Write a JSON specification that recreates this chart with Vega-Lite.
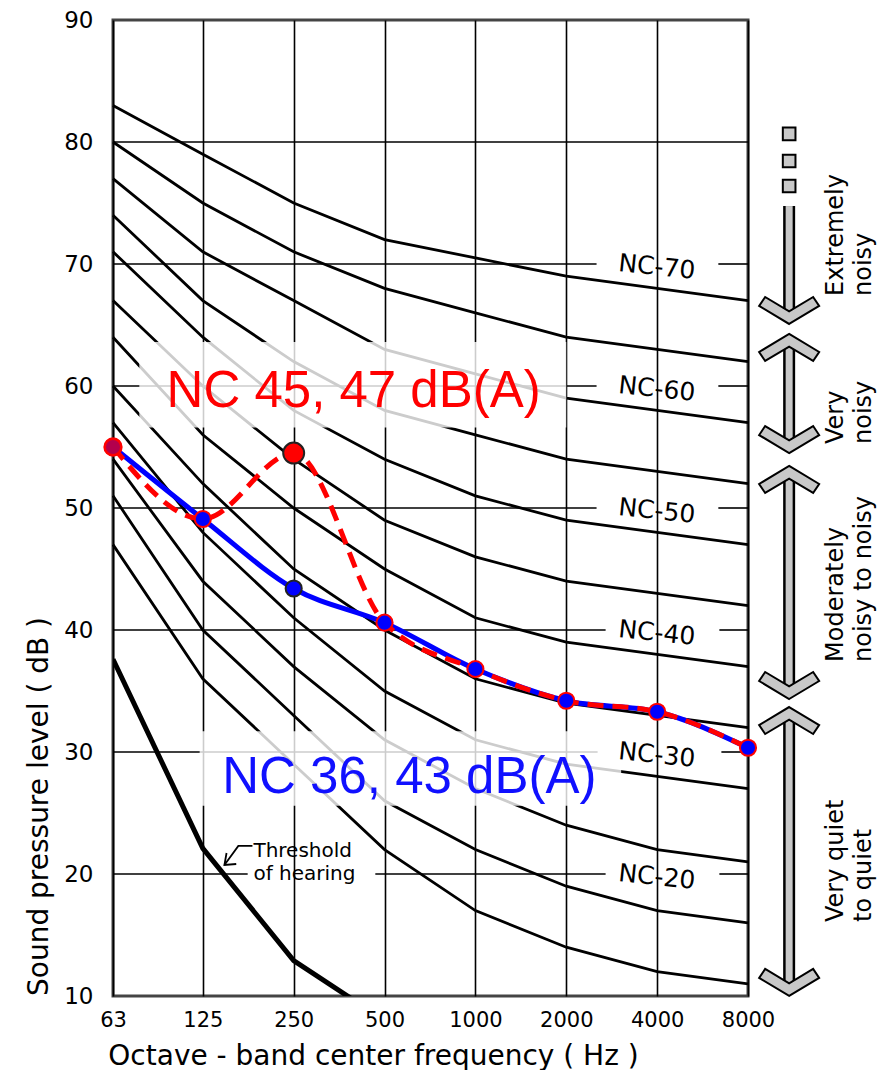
{
  "$schema": "https://vega.github.io/schema/vega-lite/v6.json",
  "width": 635,
  "height": 976,
  "padding": {"left": 25, "top": 9, "right": 0, "bottom": 0},
  "background": "white",
  "config": {"view": {"stroke": "#444", "strokeWidth": 3}, "font": "DejaVu Sans"},
  "datasets": {
    "nc": [
      {"nc":"NC-15","freq":63,"level":47},{"nc":"NC-15","freq":125,"level":36},{"nc":"NC-15","freq":250,"level":29},{"nc":"NC-15","freq":500,"level":22},{"nc":"NC-15","freq":1000,"level":17},{"nc":"NC-15","freq":2000,"level":14},{"nc":"NC-15","freq":4000,"level":12},{"nc":"NC-15","freq":8000,"level":11},
      {"nc":"NC-20","freq":63,"level":51},{"nc":"NC-20","freq":125,"level":40},{"nc":"NC-20","freq":250,"level":33},{"nc":"NC-20","freq":500,"level":26},{"nc":"NC-20","freq":1000,"level":22},{"nc":"NC-20","freq":2000,"level":19},{"nc":"NC-20","freq":4000,"level":17},{"nc":"NC-20","freq":8000,"level":16},
      {"nc":"NC-25","freq":63,"level":54},{"nc":"NC-25","freq":125,"level":44},{"nc":"NC-25","freq":250,"level":37},{"nc":"NC-25","freq":500,"level":31},{"nc":"NC-25","freq":1000,"level":27},{"nc":"NC-25","freq":2000,"level":24},{"nc":"NC-25","freq":4000,"level":22},{"nc":"NC-25","freq":8000,"level":21},
      {"nc":"NC-30","freq":63,"level":57},{"nc":"NC-30","freq":125,"level":48},{"nc":"NC-30","freq":250,"level":41},{"nc":"NC-30","freq":500,"level":35},{"nc":"NC-30","freq":1000,"level":31},{"nc":"NC-30","freq":2000,"level":29},{"nc":"NC-30","freq":4000,"level":28},{"nc":"NC-30","freq":8000,"level":27},
      {"nc":"NC-35","freq":63,"level":60},{"nc":"NC-35","freq":125,"level":52},{"nc":"NC-35","freq":250,"level":45},{"nc":"NC-35","freq":500,"level":40},{"nc":"NC-35","freq":1000,"level":36},{"nc":"NC-35","freq":2000,"level":34},{"nc":"NC-35","freq":4000,"level":33},{"nc":"NC-35","freq":8000,"level":32},
      {"nc":"NC-40","freq":63,"level":64},{"nc":"NC-40","freq":125,"level":56},{"nc":"NC-40","freq":250,"level":50},{"nc":"NC-40","freq":500,"level":45},{"nc":"NC-40","freq":1000,"level":41},{"nc":"NC-40","freq":2000,"level":39},{"nc":"NC-40","freq":4000,"level":38},{"nc":"NC-40","freq":8000,"level":37},
      {"nc":"NC-45","freq":63,"level":67},{"nc":"NC-45","freq":125,"level":60},{"nc":"NC-45","freq":250,"level":54},{"nc":"NC-45","freq":500,"level":49},{"nc":"NC-45","freq":1000,"level":46},{"nc":"NC-45","freq":2000,"level":44},{"nc":"NC-45","freq":4000,"level":43},{"nc":"NC-45","freq":8000,"level":42},
      {"nc":"NC-50","freq":63,"level":71},{"nc":"NC-50","freq":125,"level":64},{"nc":"NC-50","freq":250,"level":58},{"nc":"NC-50","freq":500,"level":54},{"nc":"NC-50","freq":1000,"level":51},{"nc":"NC-50","freq":2000,"level":49},{"nc":"NC-50","freq":4000,"level":48},{"nc":"NC-50","freq":8000,"level":47},
      {"nc":"NC-55","freq":63,"level":74},{"nc":"NC-55","freq":125,"level":67},{"nc":"NC-55","freq":250,"level":62},{"nc":"NC-55","freq":500,"level":58},{"nc":"NC-55","freq":1000,"level":56},{"nc":"NC-55","freq":2000,"level":54},{"nc":"NC-55","freq":4000,"level":53},{"nc":"NC-55","freq":8000,"level":52},
      {"nc":"NC-60","freq":63,"level":77},{"nc":"NC-60","freq":125,"level":71},{"nc":"NC-60","freq":250,"level":67},{"nc":"NC-60","freq":500,"level":63},{"nc":"NC-60","freq":1000,"level":61},{"nc":"NC-60","freq":2000,"level":59},{"nc":"NC-60","freq":4000,"level":58},{"nc":"NC-60","freq":8000,"level":57},
      {"nc":"NC-65","freq":63,"level":80},{"nc":"NC-65","freq":125,"level":75},{"nc":"NC-65","freq":250,"level":71},{"nc":"NC-65","freq":500,"level":68},{"nc":"NC-65","freq":1000,"level":66},{"nc":"NC-65","freq":2000,"level":64},{"nc":"NC-65","freq":4000,"level":63},{"nc":"NC-65","freq":8000,"level":62},
      {"nc":"NC-70","freq":63,"level":83},{"nc":"NC-70","freq":125,"level":79},{"nc":"NC-70","freq":250,"level":75},{"nc":"NC-70","freq":500,"level":72},{"nc":"NC-70","freq":1000,"level":70.5},{"nc":"NC-70","freq":2000,"level":69},{"nc":"NC-70","freq":4000,"level":68},{"nc":"NC-70","freq":8000,"level":67}
    ],
    "thr": [
      {"freq":63,"level":37.6},{"freq":125,"level":22.1},{"freq":250,"level":12.9},{"freq":500,"level":8.0}
    ],
    "hgrid": [
      {"lvl":20,"f1":63,"f2":176},{"lvl":20,"f1":466,"f2":2700},{"lvl":20,"f1":6430,"f2":8000},
      {"lvl":30,"f1":63,"f2":2540},{"lvl":30,"f1":6530,"f2":8000},
      {"lvl":40,"f1":63,"f2":2700},{"lvl":40,"f1":6430,"f2":8000},
      {"lvl":50,"f1":63,"f2":2520},{"lvl":50,"f1":6380,"f2":8000},
      {"lvl":60,"f1":63,"f2":2520},{"lvl":60,"f1":6380,"f2":8000},
      {"lvl":70,"f1":63,"f2":2520},{"lvl":70,"f1":6380,"f2":8000},
      {"lvl":80,"f1":63,"f2":8000}
    ],
    "boxes": [
      {"f1":77,"f2":2000,"l1":63.6,"l2":56.6},
      {"f1":122,"f2":3040,"l1":31.7,"l2":25.6}
    ],
    "nclab": [
      {"label":"NC-70","level":70},{"label":"NC-60","level":60},{"label":"NC-50","level":50},
      {"label":"NC-40","level":40},{"label":"NC-30","level":30},{"label":"NC-20","level":20}
    ],
    "thrlab": [
      {"text":"Threshold\nof hearing","level":21.39}
    ],
    "leader": [
      {"part":"line","ord":1,"freq":182.5,"level":22.3},{"part":"line","ord":2,"freq":163.9,"level":22.3},{"part":"line","ord":3,"freq":147.4,"level":20.74},
      {"part":"head","ord":1,"freq":149.8,"level":21.72},{"part":"head","ord":2,"freq":147.4,"level":20.74},{"part":"head","ord":3,"freq":161.3,"level":20.82}
    ],
    "meas": [
      {"series":"NC 36","freq":63,"level":55},{"series":"NC 36","freq":125,"level":49.1},{"series":"NC 36","freq":250,"level":43.4},{"series":"NC 36","freq":500,"level":40.6},{"series":"NC 36","freq":1000,"level":36.8},{"series":"NC 36","freq":2000,"level":34.2},{"series":"NC 36","freq":4000,"level":33.3},{"series":"NC 36","freq":8000,"level":30.35},
      {"series":"NC 45","freq":63,"level":55},{"series":"NC 45","freq":125,"level":49.1},{"series":"NC 45","freq":250,"level":54.5},{"series":"NC 45","freq":500,"level":40.6},{"series":"NC 45","freq":1000,"level":36.8},{"series":"NC 45","freq":2000,"level":34.2},{"series":"NC 45","freq":4000,"level":33.3},{"series":"NC 45","freq":8000,"level":30.35}
    ],
    "biglab": [
      {"text":"NC 45, 47 dB(A)","series":"NC 45","freq":395,"level":58.28},
      {"text":"NC 36, 43 dB(A)","series":"NC 36","freq":604,"level":26.64}
    ],
    "shafts": [
      {"cat":"Extremely noisy","top":74.75,"bottom":66.19},
      {"cat":"Very noisy","top":63.16,"bottom":55.61},
      {"cat":"Moderately noisy to noisy","top":52.34,"bottom":35.45},
      {"cat":"Very quiet to quiet","top":32.58,"bottom":11.11}
    ],
    "heads": [
      {"cat":"Extremely noisy","dir":"down","level":66.19},
      {"cat":"Very noisy","dir":"up","level":63.16},
      {"cat":"Very noisy","dir":"down","level":55.61},
      {"cat":"Moderately noisy to noisy","dir":"up","level":52.34},
      {"cat":"Moderately noisy to noisy","dir":"down","level":35.45},
      {"cat":"Very quiet to quiet","dir":"up","level":32.58},
      {"cat":"Very quiet to quiet","dir":"down","level":11.11}
    ],
    "squares": [{"level":80.66},{"level":78.44},{"level":76.39}],
    "cats": [
      {"line1":"Extremely","line2":"noisy","base":67.38},
      {"line1":"Very","line2":"noisy","base":55.25},
      {"line1":"Moderately","line2":"noisy to noisy","base":37.38},
      {"line1":"Very quiet","line2":"to quiet","base":16.07}
    ]
  },
  "layer": [
    {
      "data": {"name": "nc"},
      "mark": {"type": "line", "color": "black", "strokeWidth": 2.8},
      "encoding": {
        "x": {"field": "freq", "type": "quantitative",
              "scale": {"type": "log", "domain": [63, 8000], "nice": false},
              "axis": {"values": [63,125,250,500,1000,2000,4000,8000], "format": "d", "grid": true,
                       "gridColor": "black", "gridWidth": 1.6, "gridOpacity": 1, "domain": false, "ticks": false,
                       "labelFontSize": 21, "labelColor": "black", "labelPadding": 13, "labelOverlap": false, "labelFlush": false,
                       "title": "Octave - band center frequency ( Hz )", "titleFontSize": 28, "titleFontWeight": "normal",
                       "titleColor": "black", "titlePadding": 12, "titleX": 260}},
        "y": {"field": "level", "type": "quantitative",
              "scale": {"domain": [10, 90], "nice": false, "zero": false},
              "axis": {"values": [10,20,30,40,50,60,70,80,90], "grid": false, "domain": false, "ticks": false,
                       "labelFontSize": 23, "labelColor": "black", "labelPadding": 20,
                       "title": "Sound pressure level ( dB )", "titleFontSize": 28, "titleFontWeight": "normal",
                       "titleColor": "black", "titlePadding": 10, "titleY": 786}},
        "detail": {"field": "nc"}
      }
    },
    {
      "data": {"name": "thr"},
      "mark": {"type": "line", "color": "black", "strokeWidth": 5, "clip": true},
      "encoding": {
        "x": {"field": "freq", "type": "quantitative"},
        "y": {"field": "level", "type": "quantitative"}
      }
    },
    {
      "data": {"name": "hgrid"},
      "mark": {"type": "rule", "color": "black", "strokeWidth": 1.6},
      "encoding": {
        "x": {"field": "f1", "type": "quantitative"},
        "x2": {"field": "f2"},
        "y": {"field": "lvl", "type": "quantitative"}
      }
    },
    {
      "data": {"name": "boxes"},
      "mark": {"type": "rect", "color": "white", "opacity": 0.8},
      "encoding": {
        "x": {"field": "f1", "type": "quantitative"},
        "x2": {"field": "f2"},
        "y": {"field": "l1", "type": "quantitative"},
        "y2": {"field": "l2"}
      }
    },
    {
      "data": {"name": "nclab"},
      "mark": {"type": "text", "fontSize": 25, "angle": 6, "dy": 3, "align": "center", "baseline": "middle", "color": "black"},
      "encoding": {
        "x": {"datum": 4000, "type": "quantitative"},
        "y": {"field": "level", "type": "quantitative"},
        "text": {"field": "label"}
      }
    },
    {
      "data": {"name": "thrlab"},
      "mark": {"type": "text", "fontSize": 20, "align": "left", "baseline": "alphabetic", "lineBreak": "\n", "lineHeight": 23, "color": "black"},
      "encoding": {
        "x": {"datum": 183.9, "type": "quantitative"},
        "y": {"field": "level", "type": "quantitative"},
        "text": {"field": "text"}
      }
    },
    {
      "data": {"name": "leader"},
      "mark": {"type": "line", "color": "black", "strokeWidth": 1.8},
      "encoding": {
        "x": {"field": "freq", "type": "quantitative"},
        "y": {"field": "level", "type": "quantitative"},
        "detail": {"field": "part"},
        "order": {"field": "ord"}
      }
    },
    {
      "data": {"name": "meas"},
      "transform": [{"filter": "datum.series == 'NC 36'"}],
      "mark": {"type": "line", "color": "#0000ff", "strokeWidth": 5, "interpolate": "monotone"},
      "encoding": {
        "x": {"field": "freq", "type": "quantitative"},
        "y": {"field": "level", "type": "quantitative"}
      }
    },
    {
      "data": {"name": "meas"},
      "transform": [{"filter": "datum.series == 'NC 45'"}],
      "mark": {"type": "line", "color": "#ff0000", "strokeWidth": 5, "strokeDash": [16, 9], "interpolate": "monotone"},
      "encoding": {
        "x": {"field": "freq", "type": "quantitative"},
        "y": {"field": "level", "type": "quantitative"}
      }
    },
    {
      "data": {"name": "meas"},
      "transform": [{"filter": "datum.series == 'NC 36'"}],
      "mark": {"type": "point", "filled": true, "fill": "#0000ff", "size": 260, "strokeWidth": 2, "opacity": 1},
      "encoding": {
        "x": {"field": "freq", "type": "quantitative"},
        "y": {"field": "level", "type": "quantitative"},
        "stroke": {"condition": {"test": "datum.freq == 250", "value": "#222222"}, "value": "#ff0000"}
      }
    },
    {
      "data": {"name": "meas"},
      "transform": [{"filter": "datum.series == 'NC 45' && (datum.freq == 250 || datum.freq == 63)"}],
      "mark": {"type": "point", "filled": true, "fill": "#ff0000", "strokeWidth": 2, "opacity": 1},
      "encoding": {
        "x": {"field": "freq", "type": "quantitative"},
        "y": {"field": "level", "type": "quantitative"},
        "stroke": {"condition": {"test": "datum.freq == 250", "value": "#222222"}, "value": "#ff0000"},
        "size": {"condition": {"test": "datum.freq == 250", "value": 440}, "value": 300},
        "fillOpacity": {"condition": {"test": "datum.freq == 250", "value": 1}, "value": 0.7}
      }
    },
    {
      "data": {"name": "biglab"},
      "mark": {"type": "text", "font": "Liberation Sans", "fontSize": 51, "align": "center", "baseline": "alphabetic"},
      "encoding": {
        "x": {"field": "freq", "type": "quantitative"},
        "y": {"field": "level", "type": "quantitative"},
        "text": {"field": "text"},
        "color": {"field": "series", "type": "nominal", "scale": {"domain": ["NC 45", "NC 36"], "range": ["#ff0000", "#1010ff"]}, "legend": null}
      }
    },
    {
      "data": {"name": "shafts"},
      "mark": {"type": "rule", "color": "black", "strokeWidth": 12},
      "encoding": {
        "x": {"datum": 10950, "type": "quantitative"},
        "y": {"field": "top", "type": "quantitative"},
        "y2": {"field": "bottom"}
      }
    },
    {
      "data": {"name": "shafts"},
      "mark": {"type": "rule", "color": "#c8c8c8", "strokeWidth": 7},
      "encoding": {
        "x": {"datum": 10950, "type": "quantitative"},
        "y": {"field": "top", "type": "quantitative"},
        "y2": {"field": "bottom"}
      }
    },
    {
      "data": {"name": "squares"},
      "mark": {"type": "point", "shape": "square", "filled": true, "fill": "#c8c8c8", "stroke": "black", "strokeWidth": 2, "size": 160, "opacity": 1},
      "encoding": {
        "x": {"datum": 10950, "type": "quantitative"},
        "y": {"field": "level", "type": "quantitative"}
      }
    },
    {
      "data": {"name": "heads"},
      "mark": {"type": "point", "filled": true, "fill": "#c8c8c8", "stroke": "black", "strokeWidth": 2, "size": 3600, "opacity": 1},
      "encoding": {
        "x": {"datum": 10950, "type": "quantitative"},
        "y": {"field": "level", "type": "quantitative"},
        "shape": {"field": "dir", "type": "nominal",
                  "scale": {"domain": ["down", "up"],
                            "range": ["M0,0.45L1,-0.15L0.8,-0.45L0,0.03L-0.8,-0.45L-1,-0.15Z", "M0,-0.45L1,0.15L0.8,0.45L0,-0.03L-0.8,0.45L-1,0.15Z"]},
                  "legend": null}
      }
    },
    {
      "data": {"name": "cats"},
      "mark": {"type": "text", "fontSize": 24, "angle": 270, "align": "left", "baseline": "middle", "color": "black"},
      "encoding": {
        "x": {"datum": 15690, "type": "quantitative"},
        "y": {"field": "base", "type": "quantitative"},
        "text": {"field": "line1"}
      }
    },
    {
      "data": {"name": "cats"},
      "mark": {"type": "text", "fontSize": 24, "angle": 270, "align": "left", "baseline": "middle", "color": "black"},
      "encoding": {
        "x": {"datum": 19430, "type": "quantitative"},
        "y": {"field": "base", "type": "quantitative"},
        "text": {"field": "line2"}
      }
    }
  ]
}
